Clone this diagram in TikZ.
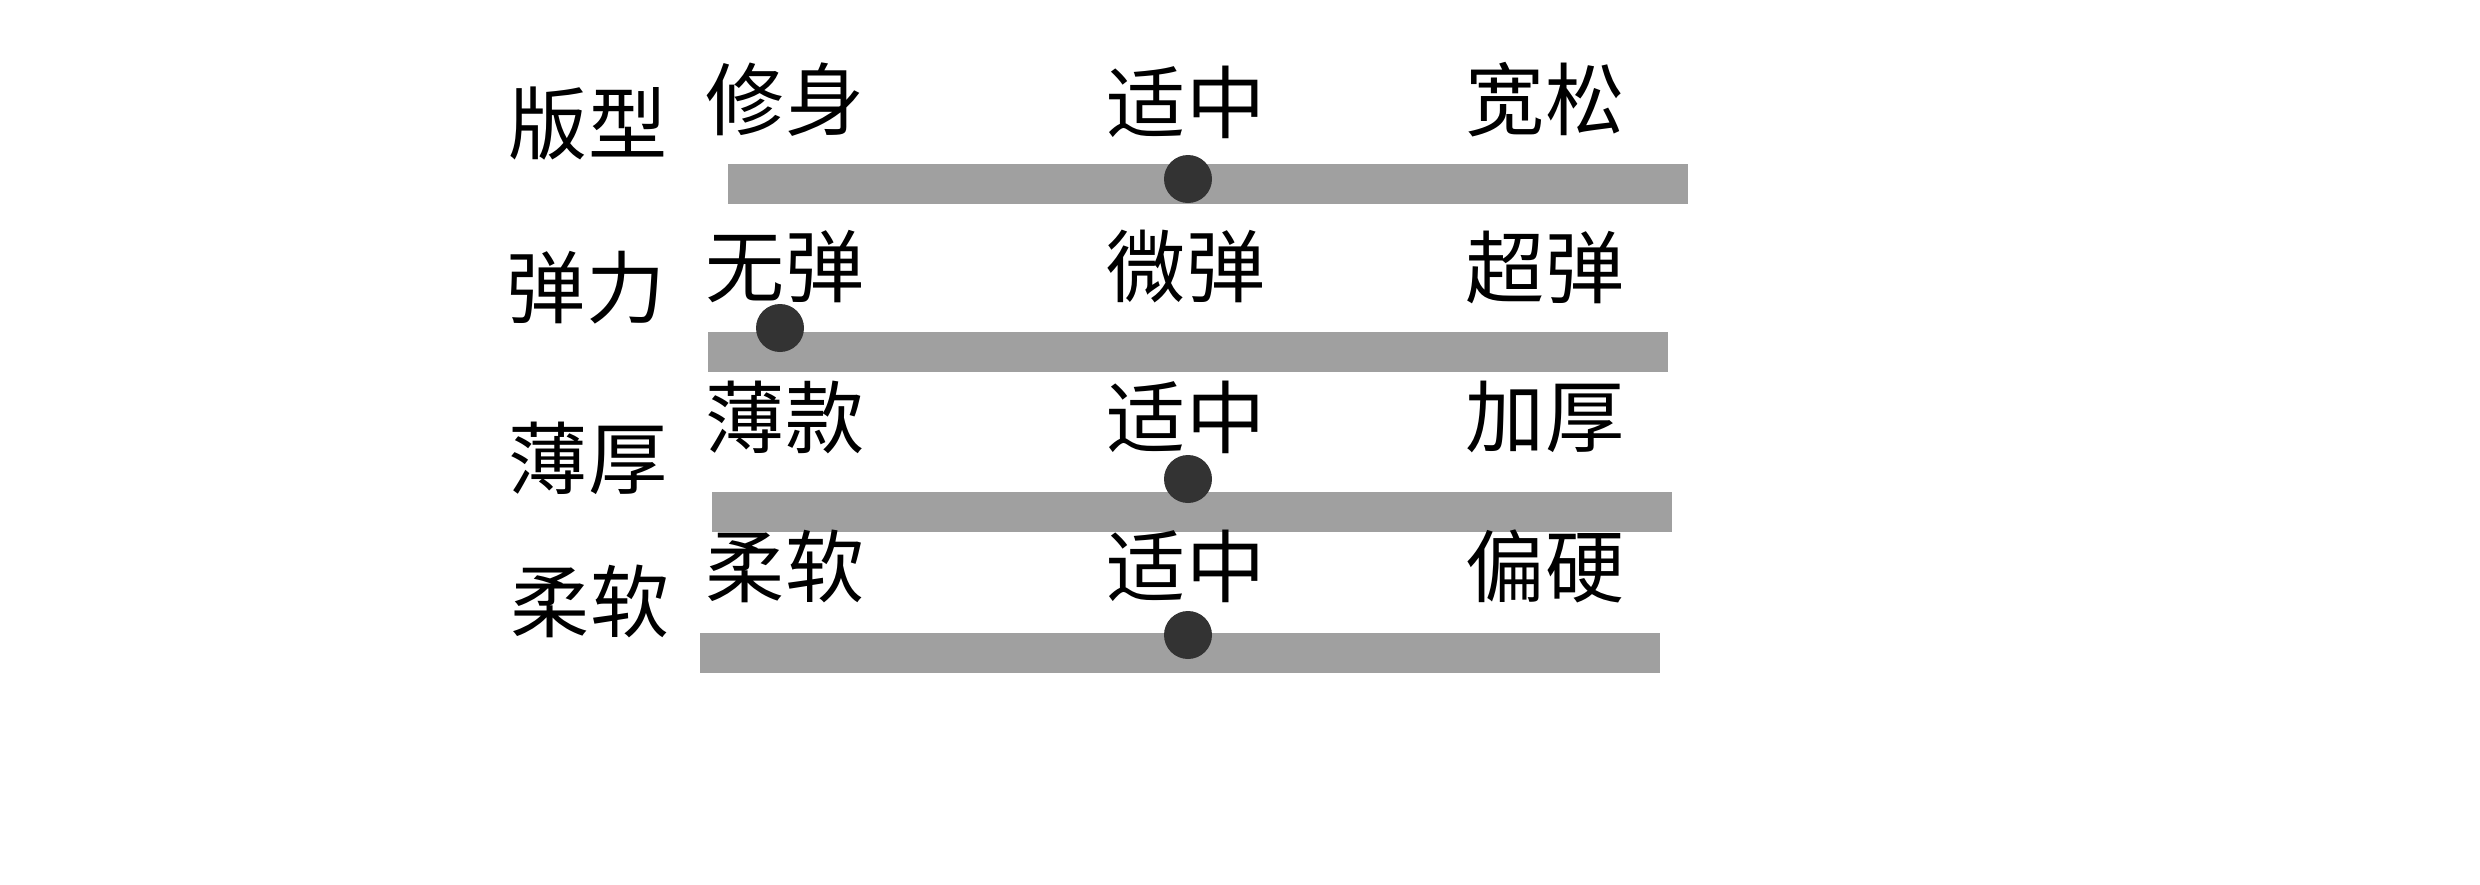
\documentclass[tikz,border=0pt]{standalone}
\usepackage{fontspec}
\newfontfamily\cjk{Noto Sans CJK SC}
\definecolor{bargray}{HTML}{A0A0A0}
\definecolor{dotgray}{HTML}{333333}
\tikzset{
  lbl/.style={inner sep=0pt, anchor=center, font=\cjk\fontsize{22.5}{27}\selectfont},
  opt/.style={inner sep=0pt, anchor=center, font=\cjk\fontsize{22.5}{27}\selectfont},
  barfill/.style={fill=bargray},
  knob/.style={fill=dotgray}
}
\begin{document}
\begin{tikzpicture}[x=0.01cm,y=-0.01cm]
\useasboundingbox (0,0) rectangle (2480,884);
% row 1
\node[lbl] (l1) at (588,124) {版型};
\node[opt] (a1) at (785,100) {修身};
\node[opt] (b1) at (1186,102) {适中};
\node[opt] (c1) at (1545,100) {宽松};
\fill[barfill] (728,164) rectangle (1688,204);
\fill[knob] (1188,179) circle[radius=24];
% row 2
\node[lbl] (l2) at (586,288) {弹力};
\node[opt] (a2) at (785,267) {无弹};
\node[opt] (b2) at (1186,267) {微弹};
\node[opt] (c2) at (1545,267) {超弹};
\fill[barfill] (708,332) rectangle (1668,372);
\fill[knob] (780,328) circle[radius=24];
% row 3
\node[lbl] (l3) at (588,458) {薄厚};
\node[opt] (a3) at (785,417) {薄款};
\node[opt] (b3) at (1186,417) {适中};
\node[opt] (c3) at (1545,417) {加厚};
\fill[barfill] (712,492) rectangle (1672,532);
\fill[knob] (1188,479) circle[radius=24];
% row 4
\node[lbl] (l4) at (590,601) {柔软};
\node[opt] (a4) at (785,566) {柔软};
\node[opt] (b4) at (1186,566) {适中};
\node[opt] (c4) at (1545,566) {偏硬};
\fill[barfill] (700,633) rectangle (1660,673);
\fill[knob] (1188,635) circle[radius=24];
\end{tikzpicture}
\end{document}
